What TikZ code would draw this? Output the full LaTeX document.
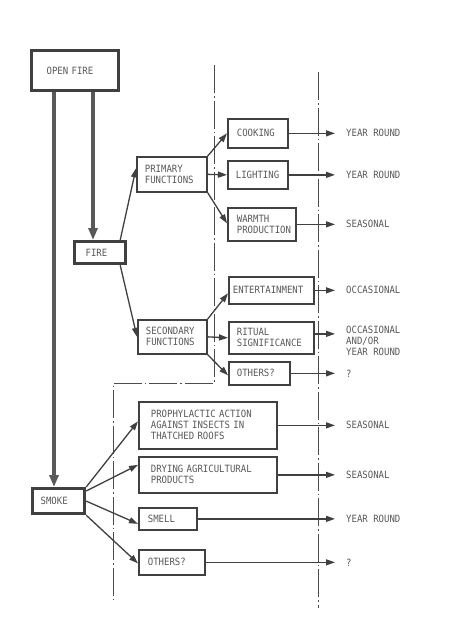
\documentclass[tikz,border=0pt]{standalone}
\usepackage{fontspec}
\newfontfamily\lett{DejaVu Sans Mono}[FakeStretch=0.9]
\usetikzlibrary{arrows.meta}
\begin{document}
\begin{tikzpicture}[x=1pt,y=-1pt,
  every node/.style={font=\lett\fontsize{10}{11}\selectfont, text=black!65},
  fbox/.style={draw=black!75, line width=1.7pt, rectangle, anchor=north west, align=left, inner ysep=0pt},
  heavy/.style={fbox, line width=3.2pt},
  arr/.style={draw=black!75, line width=1.3pt, -{Triangle[length=9pt,width=6pt]}},
  harr/.style={draw=black!65, line width=3.5pt, -{Triangle[length=12pt,width=9pt]}},
  lbl/.style={anchor=west, inner sep=0pt, align=left},
  dd/.style={draw=black!70, line width=0.8pt, dash pattern=on 28pt off 3pt on 1.5pt off 3pt}]
\useasboundingbox (0,0) rectangle (450,640);
\fill[white] (0,0) rectangle (450,640);

% dash-dot separators
\draw[dd] (214,65) -- (214,383) -- (113,383) -- (113,600);
\draw[dd] (318,72) -- (318,608);

% heavy boxes
\node[heavy, minimum width=87pt, minimum height=40pt, text width=57pt, inner xsep=15pt] (open) at (30,49) {OPEN FIRE};
\node[heavy, minimum width=51pt, minimum height=22pt, text width=29pt, inner xsep=11pt] (fire) at (73,240) {FIRE};
\node[heavy, minimum width=52pt, minimum height=25pt, text width=36pt, inner xsep=8pt] (smoke) at (31,487) {SMOKE};

% function boxes
\node[fbox, minimum width=70pt, minimum height=35pt, text width=54pt, inner xsep=8pt] (prim) at (136,156) {PRIMARY\\FUNCTIONS};
\node[fbox, minimum width=69pt, minimum height=34pt, text width=53pt, inner xsep=8pt] (sec) at (137,319) {SECONDARY\\FUNCTIONS};

\node[fbox, minimum width=60pt, minimum height=29pt, text width=42pt, inner xsep=9pt] (cook) at (227,118) {COOKING};
\node[fbox, minimum width=60pt, minimum height=28pt, text width=44pt, inner xsep=8pt] (light) at (227,160) {LIGHTING};
\node[fbox, minimum width=68pt, minimum height=33pt, text width=60pt, inner xsep=4pt] (warm) at (227,207) {\hspace*{5pt}WARMTH\\\hspace*{5pt}PRODUCTION};

\node[fbox, minimum width=85pt, minimum height=27pt, text width=77pt, inner xsep=4pt] (ent) at (228,276) {ENTERTAINMENT};
\node[fbox, minimum width=85pt, minimum height=32pt, text width=69pt, inner xsep=8pt] (rit) at (228,321) {RITUAL\\SIGNIFICANCE};
\node[fbox, minimum width=61pt, minimum height=23pt, text width=45pt, inner xsep=8pt] (oth1) at (228,361) {OTHERS?};

\node[fbox, minimum width=138pt, minimum height=47pt, text width=114pt, inner xsep=12pt] (pro) at (138,401) {PROPHYLACTIC ACTION\\AGAINST INSECTS IN\\THATCHED ROOFS};
\node[fbox, minimum width=138pt, minimum height=36pt, text width=114pt, inner xsep=12pt] (dry) at (138,456) {DRYING AGRICULTURAL\\PRODUCTS};
\node[fbox, minimum width=58pt, minimum height=22pt, text width=40pt, inner xsep=9pt] (smell) at (138,507) {SMELL};
\node[fbox, minimum width=66pt, minimum height=25pt, text width=48pt, inner xsep=9pt] (oth2) at (138,549) {OTHERS?};

% right-hand labels
\coordinate (lx) at (346,0);
\node[lbl] (cookL) at (cook.east -| lx) {YEAR ROUND};
\node[lbl] (lightL) at (light.east -| lx) {YEAR ROUND};
\node[lbl] (warmL) at (warm.east -| lx) {SEASONAL};
\node[lbl] (entL) at (ent.east -| lx) {OCCASIONAL};
\node[lbl] (ritL) at (346,341) {OCCASIONAL\\AND/OR\\YEAR ROUND};
\node[lbl] (oth1L) at (oth1.east -| lx) {?};
\node[lbl] (proL) at (pro.east -| lx) {SEASONAL};
\node[lbl] (dryL) at (dry.east -| lx) {SEASONAL};
\node[lbl] (smellL) at (smell.east -| lx) {YEAR ROUND};
\node[lbl] (oth2L) at (oth2.east -| lx) {?};

% heavy arrows
\draw[harr] ([xshift=24pt]open.south west) -- ([xshift=24pt]open.south west |- smoke.north);
\draw[harr] ([xshift=63pt]open.south west) -- ([xshift=63pt]open.south west |- fire.north);

% fire to functions
\draw[arr] ([xshift=-7pt]fire.north east) -- ([yshift=6pt]prim.west);
\draw[arr] ([xshift=-7pt]fire.south east) -- (sec.west);

% primary
\draw[arr] (prim.north east) -- (cook.west);
\draw[arr] (prim.east) -- (light.west);
\draw[arr] (prim.south east) -- ([yshift=1pt]warm.west);

% secondary
\draw[arr] (sec.north east) -- ([yshift=-3pt]ent.west);
\draw[arr] (sec.east) -- (rit.west);
\draw[arr] (sec.south east) -- ([yshift=-2pt]oth1.west);

% smoke
\draw[arr] (smoke.north east) -- ([yshift=4pt]pro.west);
\draw[arr] ([yshift=-4pt]smoke.north east) -- ([yshift=10pt]dry.west);
\draw[arr] (smoke.east) -- ([yshift=-5pt]smell.west);
\draw[arr] (smoke.south east) -- ([yshift=-1pt]oth2.west);

% outputs
\draw[arr, shorten >=11pt] (cook.east) -- (cook.east -| cookL.west);
\draw[arr, shorten >=11pt] (light.east) -- (light.east -| lightL.west);
\draw[arr, shorten >=11pt] (warm.east) -- (warm.east -| warmL.west);
\draw[arr, shorten >=11pt] (ent.east) -- (ent.east -| entL.west);
\draw[arr, shorten >=11pt] ([yshift=4pt]rit.east) -- ([yshift=4pt]rit.east -| ritL.west);
\draw[arr, shorten >=11pt] (oth1.east) -- (oth1.east -| oth1L.west);
\draw[arr, shorten >=11pt] (pro.east) -- (pro.east -| proL.west);
\draw[arr, shorten >=11pt] (dry.east) -- (dry.east -| dryL.west);
\draw[arr, shorten >=11pt] (smell.east) -- (smell.east -| smellL.west);
\draw[arr, shorten >=11pt] (oth2.east) -- (oth2.east -| oth2L.west);
\end{tikzpicture}
\end{document}
